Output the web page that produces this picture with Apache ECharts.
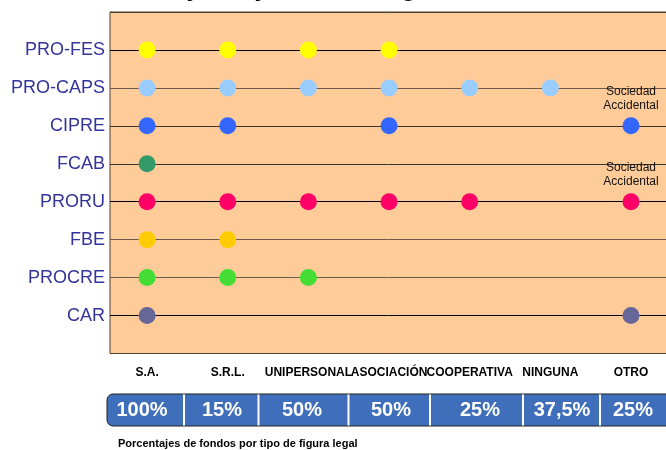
<!DOCTYPE html>
<html>
<head>
<meta charset="utf-8">
<script src="https://cdn.jsdelivr.net/npm/echarts@6/dist/echarts.min.js"></script>
<style>
  html, body { margin: 0; padding: 0; background: #fff; }
  #chart { width: 666px; height: 450px; }
</style>
</head>
<body>
<div id="chart"></div>
<script>
// figuras legales (columnas) y fondos (filas)
const figuras = ['S.A.', 'S.R.L.', 'UNIPERSONAL', 'ASOCIACIÓN', 'COOPERATIVA', 'NINGUNA', 'OTRO']
const fondos = ['PRO-FES', 'PRO-CAPS', 'CIPRE', 'FCAB', 'PRORU', 'FBE', 'PROCRE', 'CAR']

// figuras presentes en cada fondo
const proFes = ['S.A.', 'S.R.L.', 'UNIPERSONAL', 'ASOCIACIÓN']
const proCaps = ['S.A.', 'S.R.L.', 'UNIPERSONAL', 'ASOCIACIÓN', 'COOPERATIVA', 'NINGUNA']
const cipre = ['S.A.', 'S.R.L.', 'ASOCIACIÓN', 'OTRO']
const fcab = ['S.A.']
const proru = ['S.A.', 'S.R.L.', 'UNIPERSONAL', 'ASOCIACIÓN', 'COOPERATIVA', 'OTRO']
const fbe = ['S.A.', 'S.R.L.']
const procre = ['S.A.', 'S.R.L.', 'UNIPERSONAL']
const car = ['S.A.', 'OTRO']

const colores = ['#FFFF00', '#99CCFF', '#3366FF', '#339966', '#FF0066', '#FFCC00', '#44DD33', '#666699']

// fondos con nota "Sociedad Accidental" en OTRO
const notaOtro = ['CIPRE', 'PRORU']

// porcentajes de fondos por tipo de figura legal
const porcentajes = ['100%', '15%', '50%', '50%', '25%', '37,5%', '25%']

const filas = [proFes, proCaps, cipre, fcab, proru, fbe, procre, car]
const font = 'Liberation Sans, Arial, sans-serif'

const series = fondos.map((fondo, i) => ({
  name: fondo,
  type: 'scatter',
  symbolSize: 17,
  itemStyle: { color: colores[i], opacity: 1 },
  label: {
    show: false,
    position: 'top',
    distance: 5,
    formatter: 'Sociedad\nAccidental',
    color: '#111',
    fontSize: 12,
    lineHeight: 14,
    fontFamily: font
  },
  data: filas[i].map(f => ({
    value: [figuras.indexOf(f), i + 1],
    label: { show: f === 'OTRO' && notaOtro.includes(fondo) }
  }))
}))

// barra de porcentajes
const sepX = [184, 258.5, 348.5, 430, 523, 600]
const txtX = [142, 222, 302, 391, 480, 562, 633]
const graphic = [
  {
    type: 'rect',
    shape: { x: 107, y: 394, width: 600, height: 32, r: 6 },
    style: { fill: '#3F6EBA', stroke: '#222', lineWidth: 1 }
  },
  ...sepX.map(x => ({
    type: 'line',
    shape: { x1: x, y1: 394.5, x2: x, y2: 425.5 },
    style: { stroke: '#fff', lineWidth: 2 }
  })),
  ...porcentajes.map((p, i) => ({
    type: 'text',
    x: txtX[i],
    y: 410,
    style: {
      text: p,
      fill: '#fff',
      font: 'bold 20px ' + font,
      align: 'center',
      verticalAlign: 'middle'
    }
  })),
  {
    type: 'text',
    x: 118,
    y: 444,
    style: {
      text: 'Porcentajes de fondos por tipo de figura legal',
      fill: '#000',
      font: 'bold 11px ' + font,
      verticalAlign: 'middle'
    }
  }
]

const chart = echarts.init(document.getElementById('chart'))
chart.setOption({
  animation: false,
  title: {
    text: 'Sujetos jurídicos según fondo',
    left: 150,
    top: -29,
    textStyle: { fontSize: 26, fontWeight: 'bold', color: '#000', fontFamily: font }
  },
  grid: {
    show: true,
    left: 110,
    top: 12,
    width: 596,
    bottom: 96.5,
    outerBoundsMode: 'none',
    containLabel: false,
    backgroundColor: '#FFCC99',
    borderColor: '#4d4033',
    borderWidth: 1
  },
  xAxis: {
    type: 'value',
    min: -0.46,
    max: 6.93,
    axisLine: { show: false },
    axisTick: { show: false },
    splitLine: { show: false },
    axisLabel: {
      customValues: figuras.map((f, i) => i),
      formatter: v => figuras[v] || '',
      color: '#000',
      fontSize: 12,
      fontWeight: 'bold',
      fontFamily: font,
      margin: 13
    }
  },
  yAxis: {
    type: 'value',
    inverse: true,
    min: 0,
    max: 9,
    interval: 1,
    axisLine: { show: false },
    axisTick: { show: false },
    axisLabel: {
      formatter: v => fondos[v - 1] || '',
      color: '#333399',
      fontSize: 18,
      fontFamily: font,
      margin: 5
    },
    splitLine: {
      show: true,
      lineStyle: {
        color: ['#4d4033', '#000', '#6e5a48', '#3a3330', '#333', '#000', '#6e5a48', '#6e5a48', '#000', '#4d4033'],
        width: 1
      }
    }
  },
  series: series,
  graphic: graphic
})
</script>
</body>
</html>
